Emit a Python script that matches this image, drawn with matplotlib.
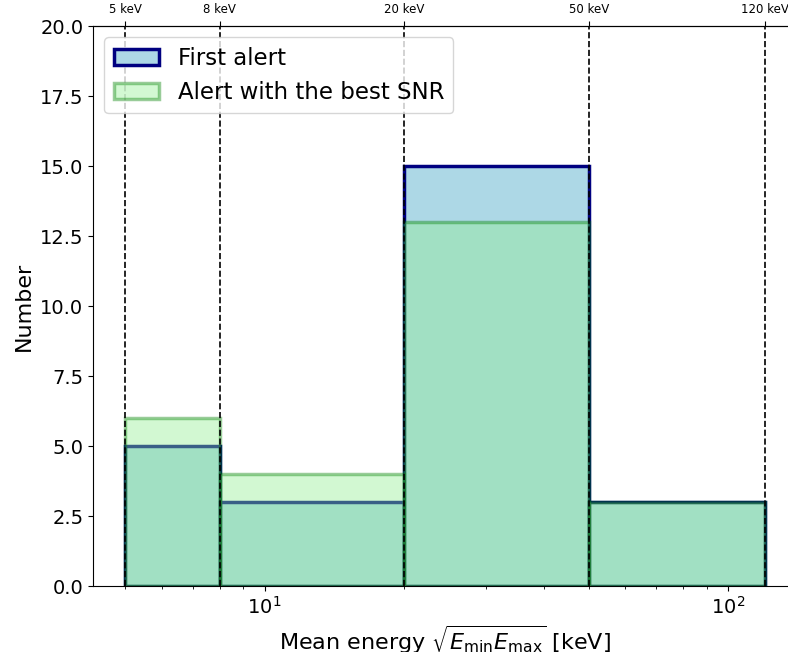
import numpy as np
import matplotlib
matplotlib.use("Agg")
import matplotlib.pyplot as plt

# bin edges in keV and counts per bin
edges = [5, 8, 20, 50, 120]
edge_labels = ["5 keV", "8 keV", "20 keV", "50 keV", "120 keV"]
first_alert = [5, 3, 15, 3]
best_snr = [6, 4, 13, 3]

fig = plt.figure(figsize=(7.88, 6.52), dpi=100)
# axes run a little past the right edge of the figure, as in the original
ax = fig.add_axes([93 / 788, 66 / 652, 704 / 788, 560 / 652])

widths = np.diff(edges)
ax.bar(edges[:-1], first_alert, width=widths, align='edge',
       facecolor='lightblue', edgecolor='navy', linewidth=2.5, label='First alert')
ax.bar(edges[:-1], best_snr, width=widths, align='edge',
       facecolor='lightgreen', edgecolor='green', linewidth=2.5, alpha=0.4,
       label='Alert with the best SNR')

for e in edges:
    ax.axvline(e, color='black', linestyle='--', linewidth=1.2, zorder=5)

ax.set_xscale('log')
ax.set_ylim(0, 20)
ax.set_yticks(np.arange(0, 20.1, 2.5))
ax.tick_params(axis='both', labelsize=14)
ax.set_xlabel(r'Mean energy $\sqrt{E_{\min}E_{\max}}$ [keV]', fontsize=16)
ax.set_ylabel('Number', fontsize=16)
ax.legend(loc='upper left', fontsize=16.5)
ax.spines['right'].set_visible(False)

top = ax.secondary_xaxis('top')
top.set_xticks(edges)
top.set_xticklabels(edge_labels, fontsize=8.5)
top.minorticks_off()

fig.savefig('out.png', dpi=100)
